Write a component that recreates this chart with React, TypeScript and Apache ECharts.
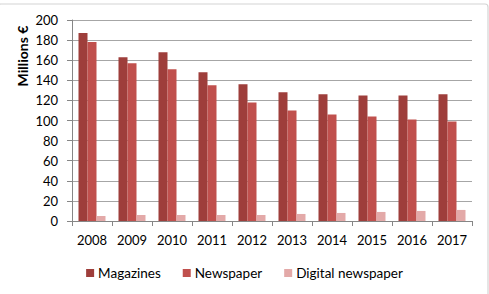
import React, { useEffect, useRef } from "react";
import * as echarts from "echarts";

const years = ["2008", "2009", "2010", "2011", "2012", "2013", "2014", "2015", "2016", "2017"];
const magazines = [187, 163, 168, 148, 136, 128, 126, 125, 125, 126];
const newspaper = [178, 157, 151, 135, 118, 110, 106, 104, 101, 99];
const digitalNewspaper = [5, 6, 6, 6, 6, 7, 8, 9, 10, 11];

const FONT = "Lato, 'Open Sans', sans-serif";

export default function App() {
  const ref = useRef<HTMLDivElement>(null);
  useEffect(() => {
    if (!ref.current) return;
    const chart = echarts.init(ref.current, undefined, { renderer: "svg" });
    chart.setOption({
      animation: false,
      backgroundColor: "#ffffff",
      textStyle: { fontFamily: FONT },
      grid: { left: 72, right: 17, top: 20, bottom: 73 },
      graphic: [
        {
          type: "rect",
          shape: { x: -2, y: 4, width: 490, height: 300, r: 3 },
          style: { fill: "none", stroke: "#D4D4D4", lineWidth: 1.2 },
          silent: true,
        },
        {
          type: "text",
          x: 22,
          y: 56,
          rotation: Math.PI / 2,
          style: {
            text: "Millions €",
            fontFamily: FONT,
            fontWeight: "bold",
            fontSize: 14,
            fill: "#000",
            align: "center",
            verticalAlign: "middle",
          },
        },
      ],
      legend: {
        bottom: 9,
        left: "center",
        itemWidth: 8,
        itemHeight: 8,
        itemGap: 22,
        icon: "rect",
        textStyle: { fontFamily: FONT, fontSize: 13.5, color: "#000", padding: [0, 0, 0, -1] },
        data: ["Magazines", "Newspaper", "Digital newspaper"],
      },
      xAxis: {
        type: "category",
        data: years,
        boundaryGap: true,
        axisLine: { lineStyle: { color: "#868686" } },
        axisTick: { show: true, length: 5, lineStyle: { color: "#868686" } },
        axisLabel: { fontFamily: FONT, fontSize: 13, color: "#000", margin: 12 },
      },
      yAxis: {
        type: "value",
        min: 0,
        max: 200,
        interval: 20,
        axisLine: { show: true, lineStyle: { color: "#868686" } },
        axisTick: { show: true, length: 5, lineStyle: { color: "#868686" } },
        axisLabel: { fontFamily: FONT, fontSize: 13, color: "#000", margin: 14 },
        splitLine: { lineStyle: { color: "#A6A6A6", width: 1 } },
      },
      series: [
        {
          name: "Magazines",
          type: "bar",
          data: magazines,
          barWidth: 9,
          barGap: "0%",
          itemStyle: { color: "#9E3E3B" },
        },
        {
          name: "Newspaper",
          type: "bar",
          data: newspaper,
          barWidth: 9,
          barGap: "0%",
          itemStyle: { color: "#C0504D" },
        },
        {
          name: "Digital newspaper",
          type: "bar",
          data: digitalNewspaper,
          barWidth: 9,
          barGap: "0%",
          itemStyle: { color: "#E3A9A8" },
        },
      ],
    });
    return () => chart.dispose();
  }, []);
  return (
    <div
      ref={ref}
      style={{ position: "fixed", left: 0, top: 0, width: 489, height: 294 }}
    />
  );
}
